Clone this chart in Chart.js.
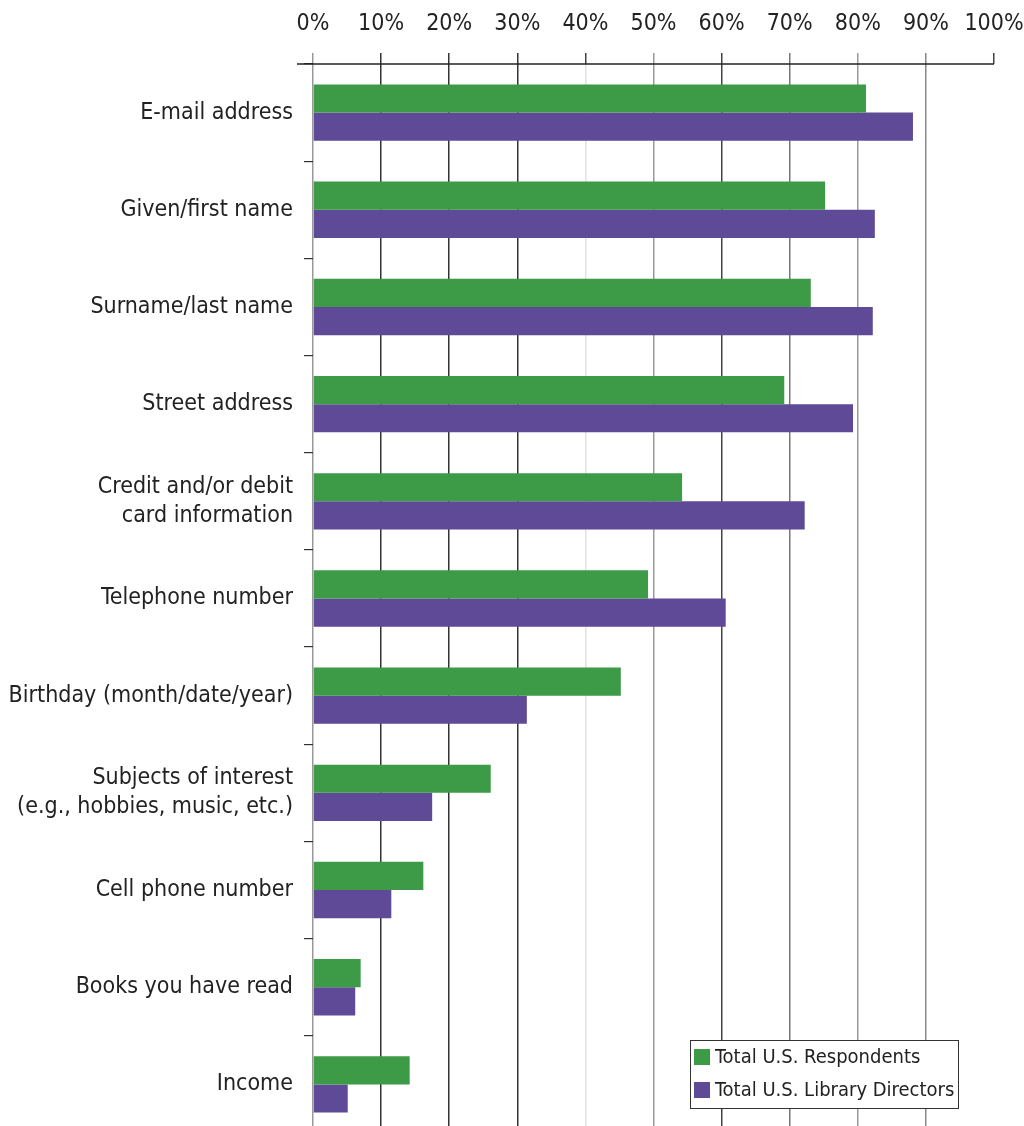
<!DOCTYPE html>
<html>
<head>
<meta charset="utf-8">
<script src="https://cdn.jsdelivr.net/npm/chart.js@4"></script>
<style>
  html, body { margin: 0; padding: 0; background: #fff; overflow: hidden; }
  canvas { display: block; }
</style>
</head>
<body>
<canvas id="chart" width="1024" height="1133"></canvas>
<script>
const categories = [
    `E-mail address`,
    `Given/first name`,
    `Surname/last name`,
    `Street address`,
    [`Credit and/or debit`, `card information`],
    `Telephone number`,
    `Birthday (month/date/year)`,
    [`Subjects of interest`, `(e.g., hobbies, music, etc.)`],
    `Cell phone number`,
    `Books you have read`,
    `Income`
];
const respondents = [81.2, 75.2, 73.1, 69.2, 54.2, 49.2, 45.2, 26.1, 16.2, 7.0, 14.2];
const directors = [88.1, 82.5, 82.2, 79.3, 72.2, 60.6, 31.4, 17.5, 11.5, 6.2, 5.1];
const tickValues = [0, 10, 20, 30, 40, 50, 60, 70, 80, 90, 100];
const gridColors = [`#999`, `#333`, `#333`, `#333`, `#e2e2e2`, `#999`, `#444`, `#777`, `#999`, `#888`, `rgba(0,0,0,0)`];
const tickColors = [`#999`, `#333`, `#333`, `#333`, `#444`, `#999`, `#444`, `#777`, `#999`, `#888`, `#444`];

const FONT = `"DejaVu Sans Condensed", "DejaVu Sans", sans-serif`;

const boxLegend = {
    id: `boxLegend`,
    afterDraw(chart) {
        const ctx = chart.ctx;
        ctx.save();
        ctx.fillStyle = `#fff`;
        ctx.fillRect(690, 1040, 268, 68);
        ctx.strokeStyle = `#333`;
        ctx.lineWidth = 1;
        ctx.strokeRect(690.5, 1040.5, 268, 68);
        chart.data.datasets.forEach((ds, i) => {
            const y = 1049 + i * 33;
            ctx.fillStyle = ds.backgroundColor;
            ctx.fillRect(694, y, 16, 16);
            ctx.fillStyle = `#222`;
            ctx.font = `20px ${FONT}`;
            ctx.textBaseline = `middle`;
            ctx.fillText(ds.label, 715, y + 9);
        });
        // axis line across the top, reaching a bit left of 0%
        const top = chart.chartArea.top;
        ctx.strokeStyle = `#222`;
        ctx.lineWidth = 1.5;
        ctx.beginPath();
        ctx.moveTo(297, top);
        ctx.lineTo(chart.chartArea.right, top);
        ctx.stroke();
        ctx.restore();
    }
};

new Chart(document.getElementById(`chart`), {
    type: `bar`,
    data: {
        labels: categories,
        datasets: [
            { label: `Total U.S. Respondents`, data: respondents, backgroundColor: `#3d9a47` },
            { label: `Total U.S. Library Directors`, data: directors, backgroundColor: `#5e4a96` }
        ]
    },
    options: {
        indexAxis: `y`,
        responsive: false,
        animation: false,
        layout: { padding: { left: 0, right: 30, top: 0, bottom: 0 } },
        datasets: { bar: { categoryPercentage: 0.58, barPercentage: 1.0 } },
        plugins: { legend: { display: false }, tooltip: { enabled: false } },
        scales: {
            x: {
                position: `top`,
                min: 0,
                max: 100,
                afterBuildTicks: scale => { scale.ticks = tickValues.map(v => ({ value: v })); },
                afterFit: scale => {
                    scale.height = 64;
                    scale.paddingLeft = 0;
                    scale.paddingRight = 0;
                },
                border: { display: false },
                grid: {
                    color: c => gridColors[c.index] || `#333`,
                    tickColor: c => tickColors[c.index] || `#333`,
                    lineWidth: 1.5,
                    tickLength: 11
                },
                ticks: {
                    callback: v => v + `%`,
                    color: `#222`,
                    padding: 15,
                    maxRotation: 0,
                    font: { family: FONT, size: 23 }
                }
            },
            y: {
                afterFit: scale => {
                    scale.width = 313;
                    scale.paddingTop = 0;
                    scale.paddingBottom = 0;
                },
                border: { display: false },
                grid: {
                    offset: true,
                    drawOnChartArea: false,
                    color: `#333`,
                    lineWidth: 1.2,
                    tickLength: 9
                },
                ticks: {
                    color: `#222`,
                    padding: 11,
                    font: { family: FONT, size: 23, lineHeight: 1.25 }
                }
            }
        }
    },
    plugins: [boxLegend]
});
</script>
</body>
</html>
